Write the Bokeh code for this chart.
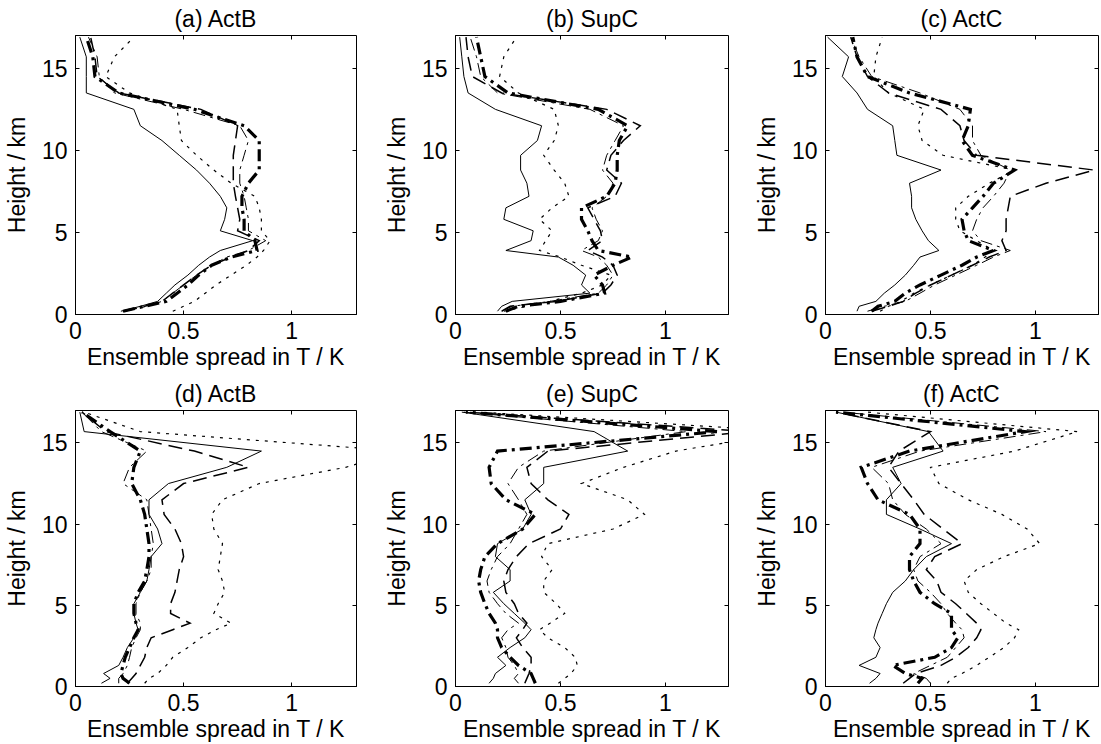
from bokeh.plotting import figure
from bokeh.models import Range1d, FixedTicker, LinearAxis
from bokeh.layouts import column, row
from bokeh.embed import file_html
from bokeh.resources import INLINE

heights = [0.2, 0.5, 0.8, 1.3, 1.8, 2.4, 3.0, 3.5, 3.9, 4.5, 5.1, 5.8, 6.5, 7.2,
           8.0, 8.8, 9.7, 10.6, 11.5, 12.5, 13.5, 14.5, 15.7, 16.9]

titles = ["(a) ActB", "(b) SupC", "(c) ActC", "(d) ActB", "(e) SupC", "(f) ActC"]
x_ticks = [0, 0.5, 1]
x_tick_labels = ["0", "0.5", "1"]
y_ticks = [0, 5, 10, 15]
x_label = "Ensemble spread in T / K"
y_label = "Height / km"

a_solid = [0.21,0.30,0.38,0.42,0.46,0.52,0.57,0.62,0.67,0.82,0.67,0.69,0.70,0.67,0.62,0.56,0.48,0.40,0.30,0.27,0.05,0.05,0.05,0.02]
a_dotted = [0.45,0.50,0.55,0.60,0.65,0.72,0.79,0.84,0.87,0.90,0.86,0.86,0.85,0.83,0.72,0.64,0.56,0.49,0.48,0.47,0.25,0.14,0.18,0.27]
a_dashed = [0.22,0.32,0.40,0.45,0.50,0.56,0.63,0.72,0.80,0.85,0.75,0.76,0.75,0.74,0.73,0.73,0.73,0.74,0.75,0.58,0.20,0.10,0.09,0.07]
a_dashdot = [0.23,0.33,0.40,0.45,0.50,0.56,0.63,0.70,0.80,0.88,0.80,0.80,0.79,0.78,0.76,0.76,0.78,0.80,0.76,0.50,0.18,0.11,0.10,0.06]
a_thick = [0.22,0.32,0.42,0.47,0.52,0.57,0.63,0.72,0.84,0.83,0.78,0.78,0.77,0.77,0.80,0.85,0.85,0.85,0.78,0.55,0.20,0.09,0.08,0.05]

b_solid = [0.20,0.22,0.27,0.64,0.60,0.62,0.56,0.49,0.24,0.36,0.37,0.23,0.24,0.35,0.34,0.31,0.31,0.39,0.41,0.19,0.06,0.04,0.03,0.02]
b_dotted = [0.23,0.34,0.45,0.60,0.70,0.74,0.60,0.50,0.40,0.43,0.46,0.40,0.46,0.54,0.52,0.47,0.42,0.47,0.49,0.47,0.30,0.21,0.23,0.29]
b_dashed = [0.22,0.26,0.48,0.70,0.74,0.77,0.75,0.70,0.63,0.70,0.69,0.66,0.63,0.76,0.79,0.72,0.74,0.80,0.88,0.72,0.22,0.08,0.06,0.05]
b_dashdot = [0.22,0.27,0.45,0.68,0.72,0.75,0.72,0.68,0.60,0.68,0.70,0.67,0.65,0.72,0.75,0.70,0.72,0.76,0.80,0.64,0.20,0.12,0.10,0.07]
b_thick = [0.24,0.30,0.50,0.71,0.70,0.66,0.75,0.84,0.68,0.65,0.63,0.60,0.60,0.72,0.76,0.77,0.77,0.78,0.82,0.68,0.25,0.14,0.12,0.10]

c_solid = [0.15,0.16,0.24,0.28,0.33,0.38,0.42,0.45,0.54,0.49,0.46,0.43,0.41,0.41,0.40,0.55,0.34,0.33,0.32,0.20,0.15,0.08,0.11,0.01]
c_dotted = [0.26,0.30,0.36,0.42,0.50,0.60,0.70,0.76,0.80,0.72,0.64,0.62,0.62,0.68,0.78,0.90,0.56,0.46,0.44,0.47,0.30,0.23,0.24,0.27]
c_dashed = [0.22,0.30,0.37,0.43,0.50,0.60,0.70,0.78,0.86,0.84,0.86,0.86,0.87,0.88,1.05,1.28,0.72,0.66,0.64,0.55,0.30,0.20,0.15,0.12]
c_dashdot = [0.20,0.28,0.38,0.45,0.52,0.62,0.72,0.80,0.88,0.74,0.70,0.72,0.75,0.80,0.85,0.88,0.74,0.70,0.70,0.64,0.45,0.22,0.16,0.12]
c_thick = [0.22,0.25,0.33,0.38,0.45,0.55,0.65,0.72,0.80,0.68,0.66,0.65,0.70,0.75,0.80,0.90,0.70,0.65,0.68,0.69,0.40,0.20,0.15,0.13]

d_solid = [0.12,0.16,0.13,0.20,0.22,0.24,0.27,0.29,0.28,0.27,0.27,0.30,0.33,0.34,0.35,0.40,0.38,0.34,0.34,0.43,0.70,0.86,0.04,0.02]
d_dotted = [0.32,0.34,0.38,0.42,0.45,0.52,0.58,0.65,0.72,0.64,0.66,0.69,0.68,0.66,0.67,0.68,0.64,0.63,0.68,0.85,1.25,1.50,0.30,0.04]
d_dashed = [0.24,0.26,0.28,0.30,0.32,0.33,0.35,0.45,0.53,0.44,0.44,0.46,0.47,0.48,0.50,0.49,0.46,0.41,0.40,0.50,0.80,0.55,0.14,0.03]
d_dashdot = [0.20,0.20,0.22,0.24,0.25,0.26,0.28,0.30,0.30,0.28,0.28,0.30,0.33,0.35,0.35,0.36,0.35,0.34,0.33,0.22,0.25,0.33,0.12,0.03]
d_thick = [0.25,0.22,0.21,0.22,0.23,0.25,0.27,0.29,0.28,0.27,0.27,0.29,0.32,0.33,0.34,0.34,0.33,0.32,0.30,0.26,0.27,0.30,0.16,0.03]

e_solid = [0.16,0.18,0.19,0.24,0.20,0.26,0.33,0.36,0.33,0.28,0.23,0.18,0.26,0.26,0.19,0.20,0.32,0.36,0.33,0.42,0.42,0.82,0.66,0.03]
e_dotted = [0.49,0.52,0.55,0.58,0.57,0.52,0.44,0.40,0.45,0.52,0.48,0.42,0.42,0.46,0.41,0.44,0.75,0.90,0.82,0.60,0.80,1.05,1.60,0.12]
e_dashed = [0.33,0.34,0.35,0.36,0.36,0.32,0.29,0.32,0.34,0.30,0.28,0.24,0.23,0.25,0.29,0.35,0.50,0.54,0.44,0.36,0.34,0.44,1.40,0.05]
e_dashdot = [0.30,0.28,0.30,0.28,0.25,0.24,0.22,0.25,0.30,0.24,0.20,0.16,0.15,0.17,0.20,0.26,0.30,0.34,0.30,0.25,0.30,0.42,1.10,0.04]
e_thick = [0.38,0.37,0.36,0.30,0.26,0.22,0.20,0.20,0.19,0.16,0.14,0.12,0.11,0.12,0.14,0.20,0.32,0.38,0.24,0.17,0.16,0.20,1.25,0.05]

f_solid = [0.21,0.24,0.26,0.16,0.24,0.26,0.23,0.24,0.25,0.27,0.29,0.32,0.38,0.42,0.48,0.60,0.45,0.29,0.29,0.36,0.32,0.56,0.49,0.05]
f_dotted = [0.58,0.60,0.65,0.72,0.78,0.85,0.90,0.92,0.86,0.80,0.74,0.68,0.66,0.72,0.85,1.02,0.96,0.84,0.68,0.54,0.50,0.90,1.20,0.20]
f_dashed = [0.37,0.40,0.43,0.55,0.62,0.68,0.72,0.74,0.72,0.67,0.62,0.55,0.53,0.48,0.52,0.65,0.56,0.47,0.42,0.36,0.30,0.35,0.50,0.05]
f_dashdot = [0.50,0.48,0.42,0.50,0.58,0.62,0.66,0.65,0.62,0.58,0.55,0.50,0.44,0.42,0.45,0.55,0.48,0.38,0.32,0.30,0.22,0.45,1.05,0.08]
f_thick = [0.44,0.46,0.38,0.32,0.52,0.60,0.63,0.60,0.60,0.60,0.52,0.45,0.42,0.40,0.40,0.45,0.45,0.40,0.25,0.20,0.17,0.40,0.95,0.05]

panels = [
    [a_solid, a_dotted, a_dashed, a_dashdot, a_thick],
    [b_solid, b_dotted, b_dashed, b_dashdot, b_thick],
    [c_solid, c_dotted, c_dashed, c_dashdot, c_thick],
    [d_solid, d_dotted, d_dashed, d_dashdot, d_thick],
    [e_solid, e_dotted, e_dashed, e_dashdot, e_thick],
    [f_solid, f_dotted, f_dashed, f_dashdot, f_thick],
]

# (width, dash)
line_styles = [(1.0, "solid"), (1.2, "3 6"), (1.5, "14 7"), (1.0, "12 5 3 5"), (3.2, "12 5 3 5")]

FONT = "Liberation Sans"
FS = "23px"


def style_axis(ax, show_labels=True):
    ax.major_tick_in = 4
    ax.major_tick_out = 0
    ax.minor_tick_line_color = None
    ax.axis_line_color = "black"
    ax.major_tick_line_color = "black"
    if show_labels:
        ax.major_label_text_font = FONT
        ax.major_label_text_font_size = FS
        ax.major_label_text_color = "black"
        ax.axis_label_text_font = FONT
        ax.axis_label_text_font_size = FS
        ax.axis_label_text_font_style = "normal"
        ax.axis_label_text_color = "black"
    else:
        ax.major_label_text_font_size = "0px"
        ax.major_label_text_color = None
        ax.major_label_standoff = 0
        ax.axis_line_color = None


def make(title, series, w, h, bl, br, bt, bb):
    p = figure(width=w, height=h, x_range=Range1d(0, 1.3), y_range=Range1d(0, 17),
               output_backend="svg", toolbar_location=None,
               min_border_left=bl, min_border_right=br, min_border_top=bt, min_border_bottom=bb)
    p.grid.visible = False
    p.outline_line_color = "black"
    p.outline_line_alpha = 1.0
    p.outline_line_width = 1
    p.background_fill_color = "white"
    p.border_fill_color = "white"
    p.title.text = title
    p.title.align = "center"
    p.title.text_font = FONT
    p.title.text_font_size = FS
    p.title.text_font_style = "normal"
    p.title.text_color = "black"
    p.title.standoff = 7

    p.xaxis.ticker = FixedTicker(ticks=x_ticks)
    p.xaxis.major_label_overrides = {t: l for t, l in zip(x_ticks, x_tick_labels)}
    p.yaxis.ticker = FixedTicker(ticks=y_ticks)
    p.xaxis.axis_label = x_label
    p.yaxis.axis_label = y_label
    style_axis(p.xaxis[0])
    style_axis(p.yaxis[0])
    p.xaxis.major_label_standoff = 7
    p.xaxis.axis_label_standoff = 2
    p.yaxis.major_label_standoff = 8
    p.yaxis.axis_label_standoff = 9

    top = LinearAxis(ticker=FixedTicker(ticks=x_ticks))
    style_axis(top, show_labels=False)
    p.add_layout(top, "above")
    right = LinearAxis(ticker=FixedTicker(ticks=y_ticks))
    style_axis(right, show_labels=False)
    p.add_layout(right, "right")

    for vals, (lw, dash) in zip(series, line_styles):
        p.line(vals, heights, line_color="black", line_width=lw, line_dash=dash,
               line_join="miter")
    return p


FW = 282
lefts = [74, 66, 66]
rights = [24, 22, 3]
top_h = (35, 279, 61)
bot_h = (32, 279, 58)

figs = []
for i in range(6):
    c = i % 3
    bt, fh, bb = top_h if i < 3 else bot_h
    figs.append(make(titles[i], panels[i], lefts[c] + FW + rights[c], bt + fh + bb,
                     lefts[c], rights[c], bt, bb))

layout = column(row(*figs[:3]), row(*figs[3:]))
open("out.html", "w").write(file_html(layout, INLINE))
